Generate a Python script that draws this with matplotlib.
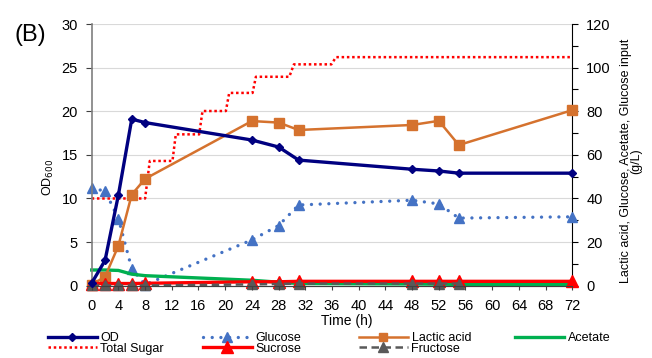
import matplotlib
matplotlib.use("Agg")
import matplotlib.pyplot as plt
from matplotlib.lines import Line2D

plt.rcParams["font.family"] = ["Liberation Sans", "DejaVu Sans"]

# sampling times (h)
TIME = [0, 2, 4, 6, 8, 24, 28, 31, 48, 52, 55, 72]

od = [0.3, 2.9, 10.4, 19.1, 18.7, 16.7, 15.9, 14.4, 13.35, 13.15, 12.9, 12.9]
lactic = [0.5, 4.1, 18.3, 41.8, 49.0, 75.5, 74.8, 71.4, 73.7, 75.6, 64.5, 80.5]
glucose = [44.7, 43.4, 30.8, 7.8, 0.5, 21.0, 27.6, 37.0, 39.2, 37.5, 31.0, 31.6]
acetate = [7.2, 7.2, 7.0, 5.3, 4.6, 2.5, 1.6, 1.0, 0.8, 0.7, 0.6, 0.5]
sucrose = [1.0, 1.0, 1.0, 1.0, 1.1, 1.8, 1.8, 2.0, 2.0, 2.0, 2.0, 2.0]

fructose_time = [0, 2, 4, 6, 8, 24, 28, 31, 48, 52, 55]
fructose = [0.1, 0.1, 0.1, 0.1, 0.1, 0.6, 0.8, 1.0, 1.0, 1.0, 1.0]

# cumulative glucose input (step profile)
sugar_time = [0, 8, 8.7, 12.1, 12.6, 16.1, 16.6, 20.1, 20.6, 24.1, 24.6, 29.6, 30.3, 35.9, 36.6, 72]
total_sugar = [40, 40, 57.2, 57.2, 69.4, 69.4, 80.1, 80.1, 88.4, 88.4, 95.8, 95.8, 101.5, 101.5, 104.8, 104.8]

X_TICKS = list(range(0, 73, 4))

NAVY = "#000080"
BLUE = "#4472C4"
ORANGE = "#D5722E"
GREEN = "#00B050"
RED = "#FF0000"
GRAY = "#595959"

W, H = 652, 358
fig = plt.figure(figsize=(W / 100, H / 100), dpi=100)
ax = fig.add_axes([91.7 / W, 1 - 285.7 / H, (572.3 - 91.7) / W, (285.7 - 24) / H])
ax2 = ax.twinx()

# right axis series
ax2.plot(sugar_time, total_sugar, color=RED, lw=1.8, ls=(0, (1, 1.1)), clip_on=False, zorder=3)
ax2.plot(TIME, glucose, color=BLUE, lw=2.4, ls=(0, (0.01, 2.6)), dash_capstyle="round",
         marker="^", ms=7.5, clip_on=False, zorder=3)
ax2.plot(TIME, acetate, color=GREEN, lw=2.4, clip_on=False, zorder=3)
ax2.plot(TIME, lactic, color=ORANGE, lw=1.8, marker="s", ms=7, clip_on=False, zorder=4)
ax2.plot(TIME, sucrose, color=RED, lw=2.4, marker="^", ms=8.5, clip_on=False, zorder=4)
ax2.plot(fructose_time, fructose, color=GRAY, lw=1.8, ls=(0, (3, 1.8)), marker="^", ms=7.5,
         clip_on=False, zorder=5)

# left axis series
ax.plot(TIME, od, color=NAVY, lw=2.4, marker="D", ms=4.5, clip_on=False, zorder=5)
ax.set_zorder(ax2.get_zorder() + 1)
ax.patch.set_visible(False)

ax.set_xlim(0, 72)
ax.set_ylim(0, 30)
ax2.set_ylim(0, 120)
ax.set_xticks(X_TICKS)
ax.set_yticks(range(0, 31, 5))
ax2.set_yticks(range(0, 121, 20))
ax2.set_yticks(range(10, 120, 20), minor=True)

ax2.set_axisbelow(True)
ax2.grid(True, color="#D9D9D9", lw=0.8)
ax2.set_xticks(X_TICKS)
ax2.xaxis.grid(True, color="#D9D9D9", lw=0.8)

for a in (ax, ax2):
    a.spines["top"].set_visible(False)
ax.spines["left"].set_color("#7F7F7F")
ax.spines["left"].set_linewidth(1.2)
ax2.spines["left"].set_visible(False)
ax.spines["right"].set_visible(False)
ax2.spines["right"].set_color("#000000")
ax2.spines["bottom"].set_color("#404040")
ax.spines["bottom"].set_color("#404040")

ax.tick_params(axis="y", length=4, width=0.8, color="#404040", pad=6, labelsize=10.5)
ax.tick_params(axis="x", length=3, width=0.8, color="#404040", pad=6.5, labelsize=10.5)
ax2.tick_params(axis="y", which="major", length=4, width=0.8, pad=6, labelsize=10.5)
ax2.tick_params(axis="y", which="minor", length=4, width=0.8)
ax2.tick_params(axis="x", length=0, labelbottom=False)

ax.set_ylabel("OD$_{600}$", fontsize=9)
ax.yaxis.label.set_va("center")
ax.yaxis.set_label_coords((48 - 91.7) / (572.3 - 91.7), (285.7 - 177) / (285.7 - 24))
fig.text(347 / W, 1 - 321 / H, "Time (h)", fontsize=10, ha="center", va="center")
fig.text(631 / W, 1 - 161 / H, "Lactic acid, Glucose, Acetate, Glucose input\n(g/L)",
         fontsize=9, rotation=90, ha="center", va="center", multialignment="center",
         linespacing=0.85)
fig.text(30 / W, 1 - 35 / H, "(B)", fontsize=17, ha="center", va="center")

legend_cols = [
    (48, [("OD", dict(color=NAVY, lw=2.4, marker="D", ms=4.5)),
          ("Total Sugar", dict(color=RED, lw=1.8, ls=(0, (1, 1.1))))]),
    (203, [("Glucose", dict(color=BLUE, lw=2.4, ls=(0, (0.01, 2.6)), dash_capstyle="round",
                            marker="^", ms=7.5)),
           ("Sucrose", dict(color=RED, lw=2.4, marker="^", ms=8.5))]),
    (359, [("Lactic acid", dict(color=ORANGE, lw=1.8, marker="s", ms=6)),
           ("Fructose", dict(color=GRAY, lw=1.8, ls=(0, (3, 1.8)), marker="^", ms=7.5))]),
    (515, [("Acetate", dict(color=GREEN, lw=2.4))]),
]
for x0, entries in legend_cols:
    handles = [Line2D([], [], **style) for _, style in entries]
    labels = [name for name, _ in entries]
    fig.legend(handles, labels, loc="upper left", bbox_to_anchor=(x0 / W, 1 - 332 / H),
               frameon=False, fontsize=9, handlelength=3.9, handletextpad=0.3,
               borderpad=0, borderaxespad=0, labelspacing=-0.1)

fig.savefig("out.png", dpi=100)
